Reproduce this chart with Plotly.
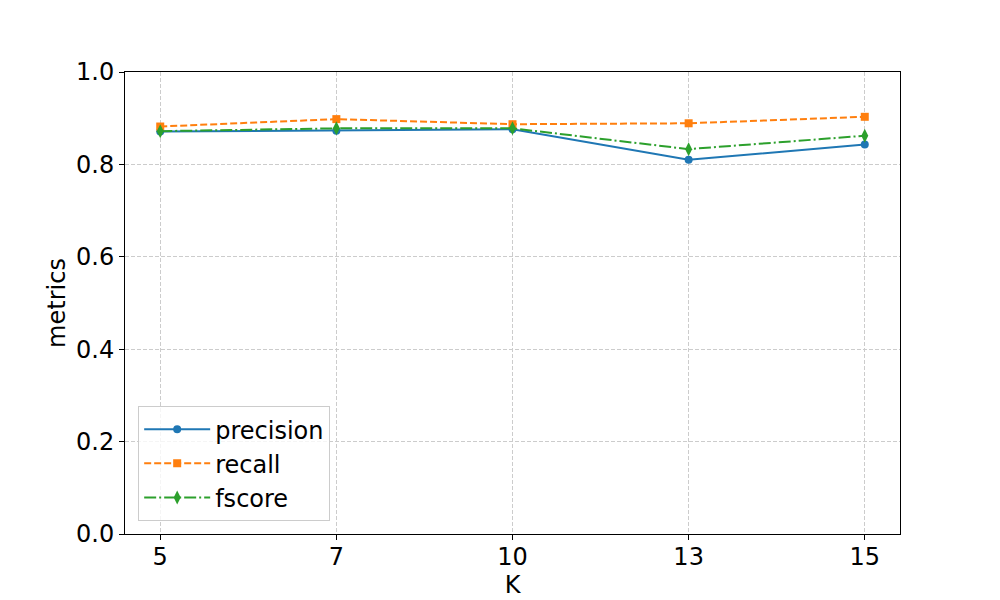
import plotly.graph_objects as go

# valeurs
k_values = ["5", "7", "10", "13", "15"]
precision = [0.871, 0.873, 0.876, 0.810, 0.843]
recall = [0.882, 0.898, 0.887, 0.889, 0.903]
fscore = [0.872, 0.878, 0.878, 0.833, 0.862]

pos = list(range(len(k_values)))

fig = go.Figure()

fig.add_trace(go.Scatter(
    x=pos, y=precision, name="precision", mode="lines+markers",
    line=dict(color="#1f77b4", width=2),
    marker=dict(symbol="circle", size=8, color="#1f77b4"),
))
fig.add_trace(go.Scatter(
    x=pos, y=recall, name="recall", mode="lines+markers",
    line=dict(color="#ff7f0e", width=2, dash="7px,3px"),
    marker=dict(symbol="square", size=8, color="#ff7f0e"),
))
fig.add_trace(go.Scatter(
    x=pos, y=fscore, name="fscore", mode="lines+markers",
    line=dict(color="#2ca02c", width=2, dash="12px,3px,2px,3px"),
    marker=dict(symbol="diamond-tall", size=10, color="#2ca02c"),
))

font = dict(family="DejaVu Sans", size=24, color="black")
grid = dict(showgrid=True, gridcolor="#cccccc", griddash="4px,2px", gridwidth=1)

# la page a une marge de 8px, on compense
fig.update_layout(
    width=1000, height=600,
    margin=dict(l=117, r=108, t=64, b=74),
    paper_bgcolor="white", plot_bgcolor="white",
    font=font,
    showlegend=True,
    legend=dict(
        x=0.017, y=0.028, xanchor="left", yanchor="bottom",
        bgcolor="rgba(255,255,255,0.8)", bordercolor="#cccccc", borderwidth=1,
        font=font,
        tracegroupgap=0, itemwidth=66,
    ),
)

fig.update_xaxes(
    range=[-0.2, 4.2],
    tickvals=pos, ticktext=k_values,
    title=dict(text="K", font=font, standoff=0),
    showline=True, linecolor="black", linewidth=1, mirror=True,
    ticks="outside", ticklen=5, tickcolor="black",
    ticklabelstandoff=-4,
    zeroline=False, **grid,
)
fig.update_yaxes(
    range=[0, 1],
    dtick=0.2, tickformat=".1f",
    title=dict(text="metrics", font=font, standoff=3),
    showline=True, linecolor="black", linewidth=1, mirror=True,
    ticks="outside", ticklen=5, tickcolor="black",
    zeroline=False, **grid,
)

fig.write_html("out.html")
